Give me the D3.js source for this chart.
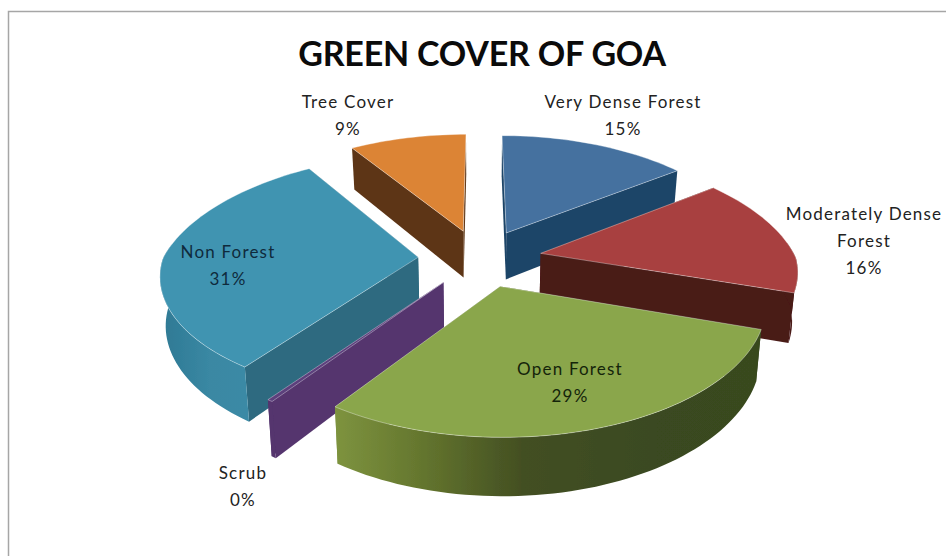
<!DOCTYPE html>
<html>
<head>
<meta charset="utf-8">
<script src="https://cdn.jsdelivr.net/npm/d3@7"></script>
<style>
html,body{margin:0;padding:0;background:#fff;overflow:hidden}
svg{display:block}
text{font-family:Lato,"Open Sans",sans-serif;text-anchor:middle}
</style>
</head>
<body>
<svg id="c" width="946" height="556"></svg>
<script>
const chartTitle = "GREEN COVER OF GOA";
const categories = ["Very Dense Forest","Moderately Dense Forest","Open Forest","Scrub","Non Forest","Tree Cover"];
const values = [14.6,15.6,29.4,0.3,31,9.1];
const shownPercent = [15,16,29,0,31,9];
const topColors = ["#44719f","#a8413f","#8aa64c","#5b3f7c","#4094b1","#dc8436"];
const wallColors = ["#1f4568","#4a1a18","url(#gOpen)","#54356e","#2d6a80","#5d3414"];
const outerColors = ["#1f4568","#4a1a18","url(#gOpen)","#54356e","url(#gNon)","#5d3414"];
const labelLines = [["Very Dense Forest"],["Moderately Dense","Forest"],["Open Forest"],["Scrub"],["Non Forest"],["Tree Cover"]];
const labelCentres = [[623,102],[864,214],[570,369],[243,473],[228,252],[348,102]];
const lineGap = 27;

const W=946,H=556,cx=480,cy=258,R=255,explode=0.243,tilt=0.466,kxFront=0.13,kxBack=0.2,ky=0.15,depth=48;
const svg=d3.select("#c");
const defs=svg.append("defs");
function grad(id,x1,x2,stops){
  const g=defs.append("linearGradient").attr("id",id).attr("gradientUnits","userSpaceOnUse")
    .attr("x1",x1).attr("x2",x2).attr("y1",0).attr("y2",0);
  stops.forEach(s=>g.append("stop").attr("offset",s[0]).attr("stop-color",s[1]));
}
grad("gOpen",330,758,[[0,"#7f9540"],[0.2,"#66782f"],[0.45,"#434f22"],[0.75,"#3a4a20"],[1,"#39491f"]]);
grad("gNon",165,255,[[0,"#2f7a95"],[0.5,"#3a88a3"],[1,"#3a8aa6"]]);
defs.append("filter").attr("id","soft").append("feGaussianBlur").attr("stdDeviation",0.45);

svg.append("rect").attr("x",8.5).attr("y",11.5).attr("width",950).attr("height",570)
  .attr("fill","#fff").attr("stroke","#a6a6a6").attr("stroke-width",1.5);

const xS=d3.scaleLinear().domain([-1,1]).range([cx-R,cx+R]);
const yS=d3.scaleLinear().domain([-1,1]).range([cy-R*tilt,cy+R*tilt]);
function project(X,Y,h){
  const k=Y>0?kxFront:kxBack;
  const px=X/(1-k*Y), py=Y/(1-ky*Y);
  return [cx+(xS(px)-cx)*(1-h*0.018), yS(py)+h*depth/(1-0.15*Y)];
}
const line=d3.line();
const pie=d3.pie().sort(null).value(d=>d).startAngle(0).endAngle(2*Math.PI);
const arcs=pie(values).map((a,i)=>{
  const mid=(a.startAngle+a.endAngle)/2;
  return {i,a0:a.startAngle,a1:a.endAngle,mid,ox:explode*Math.sin(mid),oy:-explode*Math.cos(mid)};
});
function pt(s,ang,r,h){return project(s.ox+r*Math.sin(ang),s.oy-r*Math.cos(ang),h);}
function arcPts(s,a0,a1,h){
  const n=Math.max(2,Math.ceil((a1-a0)/0.03));
  return d3.range(n+1).map(k=>pt(s,a0+(a1-a0)*k/n,1,h));
}
const g=svg.append("g").attr("filter","url(#soft)");
arcs.slice().sort((p,q)=>p.oy-q.oy).forEach(s=>{
  const sg=g.append("g");
  const walls=[s.a0,s.a1].map(a=>({a,my:-Math.cos(a)})).sort((p,q)=>p.my-q.my);
  walls.forEach(w=>{
    const poly=[pt(s,0,0,0),pt(s,w.a,1,0),pt(s,w.a,1,1),pt(s,0,0,1)];
    sg.append("path").attr("d",line(poly)+"Z").attr("fill",wallColors[s.i]);
  });
  const lo=Math.max(s.a0,Math.PI*0.47),hi=Math.min(s.a1,Math.PI*1.53);
  if(hi>lo){
    const poly=arcPts(s,lo,hi,0).concat(arcPts(s,lo,hi,1).reverse());
    sg.append("path").attr("d",line(poly)+"Z").attr("fill",outerColors[s.i]);
  }
  const top=[pt(s,0,0,0)].concat(arcPts(s,s.a0,s.a1,0));
  sg.append("path").attr("d",line(top)+"Z").attr("fill",topColors[s.i])
    .attr("stroke","#ffffff").attr("stroke-opacity",0.45).attr("stroke-width",0.8).attr("stroke-linejoin","round");
});

svg.append("text").attr("x",482).attr("y",66).attr("font-size",34).attr("font-weight",700)
  .attr("fill","#0b0b0b").style("letter-spacing","-0.2px").text(chartTitle);

categories.forEach((c,i)=>{
  const lines=labelLines[i].concat([shownPercent[i]+"%"]);
  const [lx,ly]=labelCentres[i];
  const fill=(i===2)?"#14240a":(i===4?"#0f2a3c":"#222");
  lines.forEach((t,k)=>{
    svg.append("text").attr("x",lx).attr("y",ly+k*lineGap+6).attr("font-size",17)
      .attr("fill",fill).style("letter-spacing","1.2px").text(t);
  });
});
</script>
</body>
</html>
